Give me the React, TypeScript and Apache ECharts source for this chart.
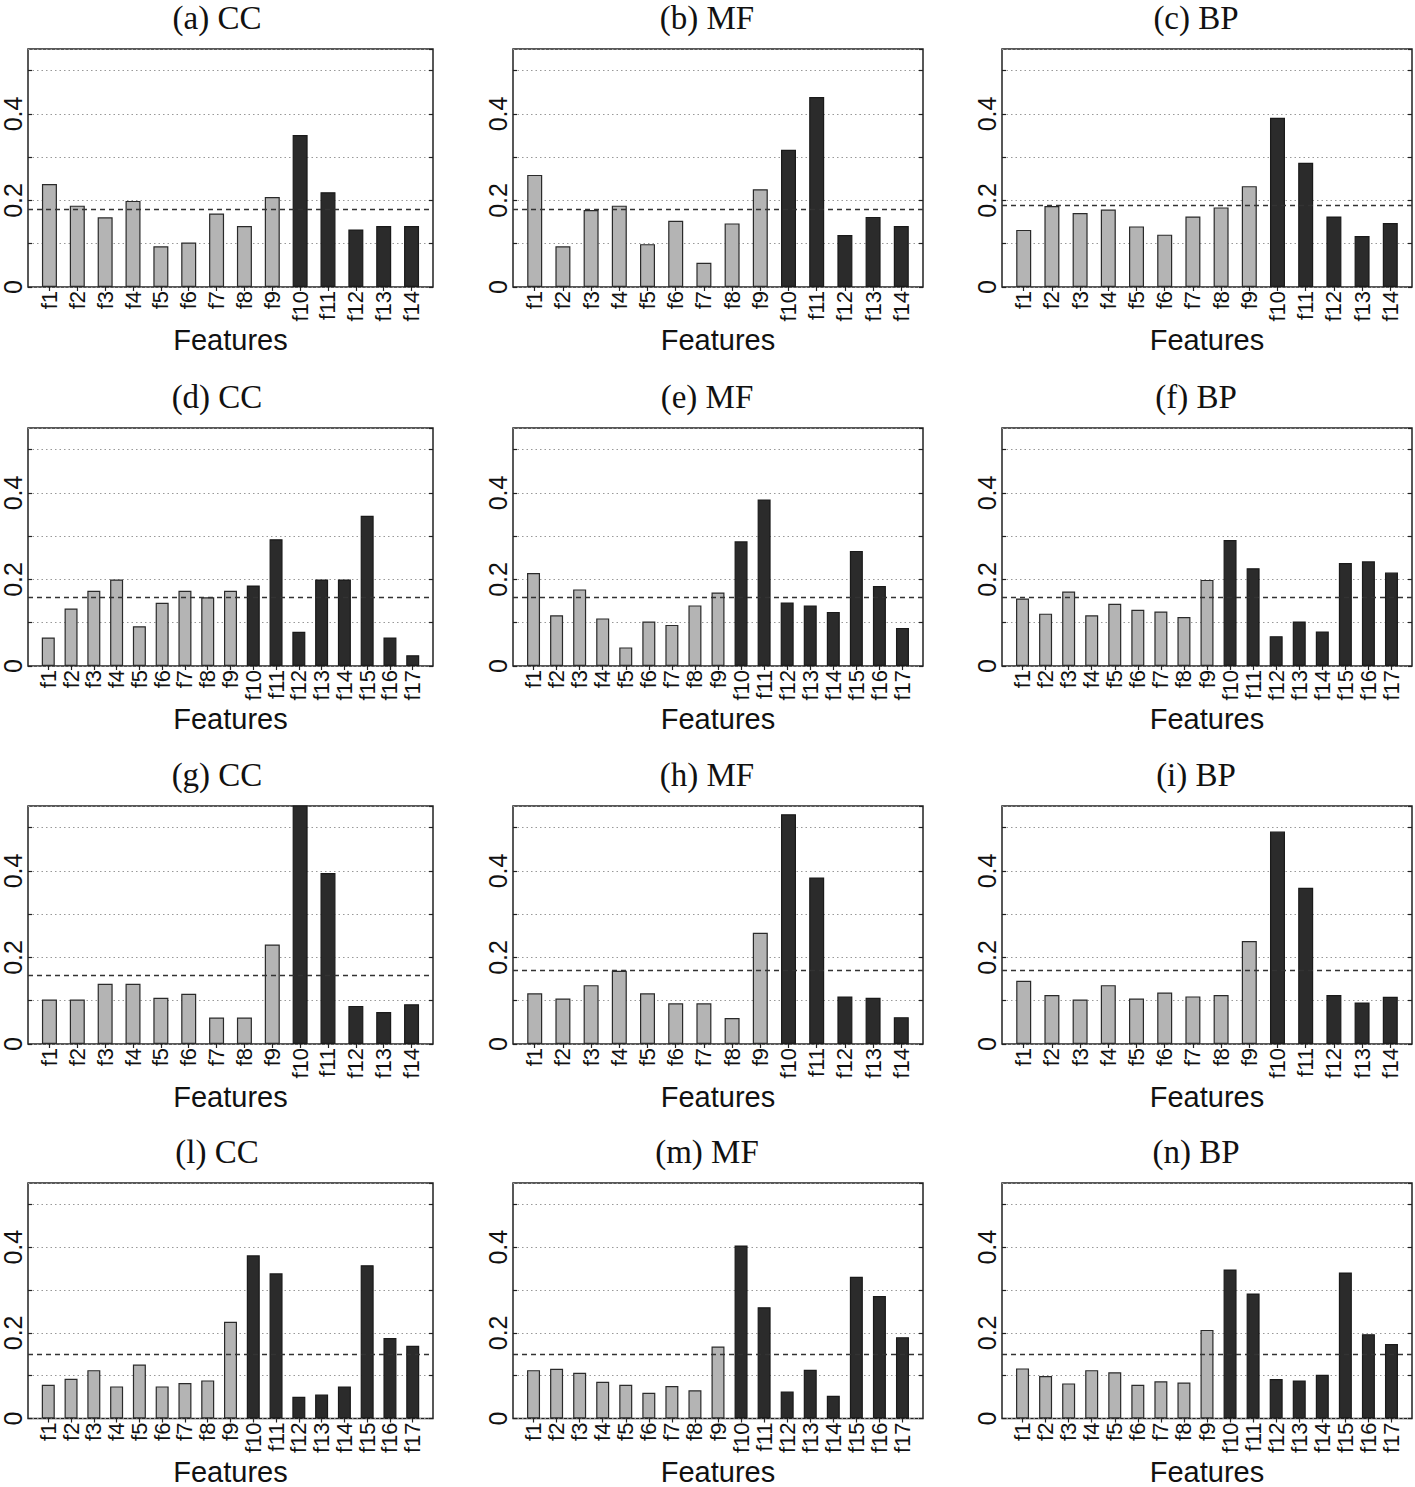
import React, { useEffect, useRef } from "react";
import * as echarts from "echarts";

// ---- Data ----
const features14 = ["f1","f2","f3","f4","f5","f6","f7","f8","f9","f10","f11","f12","f13","f14"];
const features17 = ["f1","f2","f3","f4","f5","f6","f7","f8","f9","f10","f11","f12","f13","f14","f15","f16","f17"];
const firstDarkFeature = 10; // f10 onward drawn dark

const valuesA = [0.238,0.188,0.161,0.199,0.094,0.103,0.170,0.141,0.208,0.351,0.219,0.133,0.141,0.141];
const valuesB = [0.259,0.094,0.178,0.188,0.099,0.153,0.056,0.147,0.226,0.317,0.439,0.120,0.162,0.141];
const valuesC = [0.132,0.187,0.171,0.179,0.140,0.121,0.163,0.184,0.233,0.391,0.287,0.163,0.118,0.148];
const valuesD = [0.066,0.133,0.174,0.200,0.092,0.146,0.174,0.159,0.174,0.186,0.293,0.079,0.200,0.200,0.347,0.066,0.025];
const valuesE = [0.215,0.117,0.177,0.110,0.043,0.103,0.095,0.140,0.170,0.288,0.385,0.147,0.140,0.125,0.266,0.185,0.088];
const valuesF = [0.156,0.121,0.172,0.117,0.144,0.130,0.126,0.113,0.199,0.291,0.226,0.069,0.103,0.080,0.238,0.242,0.216];
const valuesG = [0.103,0.103,0.139,0.139,0.107,0.116,0.061,0.061,0.230,0.560,0.395,0.088,0.074,0.092];
const valuesH = [0.117,0.105,0.136,0.169,0.117,0.094,0.094,0.060,0.257,0.531,0.385,0.110,0.107,0.062];
const valuesI = [0.146,0.113,0.103,0.136,0.105,0.119,0.110,0.113,0.238,0.491,0.361,0.113,0.096,0.109];
const valuesL = [0.079,0.093,0.113,0.075,0.126,0.075,0.083,0.089,0.226,0.381,0.339,0.051,0.056,0.075,0.358,0.188,0.170];
const valuesM = [0.113,0.116,0.107,0.086,0.079,0.060,0.076,0.066,0.168,0.404,0.260,0.063,0.114,0.053,0.331,0.286,0.190];
const valuesN = [0.117,0.099,0.082,0.113,0.108,0.079,0.087,0.084,0.207,0.348,0.292,0.092,0.089,0.102,0.341,0.197,0.174];

const thresholds = [0.177, 0.185, 0.186, 0.159, 0.164, 0.161, 0.161, 0.167, 0.168, 0.150, 0.150, 0.154];
const panelTitles = ["(a) CC","(b) MF","(c) BP","(d) CC","(e) MF","(f) BP","(g) CC","(h) MF","(i) BP","(l) CC","(m) MF","(n) BP"];
const panelValues = [valuesA, valuesB, valuesC, valuesD, valuesE, valuesF, valuesG, valuesH, valuesI, valuesL, valuesM, valuesN];
const panelFeatures = [features14, features14, features14, features17, features17, features17, features14, features14, features14, features17, features17, features17];

const yMax = 0.55;
const yStep = 0.1;
const xAxisName = "Features";

// ---- Layout / style ----
const colLeft = [23, 513, 1002];
const rowTop = [49, 428, 806, 1183];
const plotW = 410;
const plotH = 238;
const lightColor = "#b4b4b4";
const darkColor = "#2b2b2b";
const sans = "Liberation Sans, Arial, Helvetica, sans-serif";
const serif = "Liberation Serif, Times New Roman, serif";

function yLabel(v: number) {
  const k = Math.round(v * 10);
  if (Math.abs(v * 10 - k) > 1e-6 || k % 2 !== 0) return "";
  return k === 0 ? "0" : (k / 10).toFixed(1);
}

function buildOption() {
  const grid: any[] = [];
  const xAxis: any[] = [];
  const yAxis: any[] = [];
  const series: any[] = [];
  const graphic: any[] = [];

  panelValues.forEach((vals, p) => {
    const feats = panelFeatures[p];
    const n = feats.length;
    const pad = n === 14 ? 0.77 : 0.89;
    const col = p % 3;
    const row = Math.floor(p / 3);
    const left = colLeft[col];
    const top = rowTop[row];
    grid.push({
      left, top, width: plotW, height: plotH,
      show: true, borderColor: "#222", borderWidth: 1.5, backgroundColor: "transparent",
      containLabel: false,
    });
    const positions = feats.map((_, i) => i + 1);
    const common = { type: "value", min: 1 - pad, max: n + pad, gridIndex: p };
    xAxis.push({
      ...common,
      position: "bottom",
      name: xAxisName,
      nameLocation: "middle",
      nameGap: 35,
      nameTextStyle: { fontFamily: sans, fontSize: 29, color: "#111" },
      axisLine: { show: false },
      splitLine: { show: false },
      axisTick: { show: true, inside: true, length: 4, customValues: positions, lineStyle: { color: "#222", width: 1.2 } },
      axisLabel: {
        show: true, customValues: positions, rotate: 90, margin: 4,
        fontFamily: sans, fontSize: 22, color: "#111",
        formatter: (v: number) => feats[Math.round(v) - 1] || "",
      },
    });
    xAxis.push({
      ...common,
      position: "top",
      axisLine: { show: false },
      splitLine: { show: false },
      axisTick: { show: true, inside: true, length: 4, customValues: positions, lineStyle: { color: "#222", width: 1.2 } },
      axisLabel: { show: false },
    });
    const yCommon = { type: "value", min: 0, max: yMax, interval: yStep, gridIndex: p };
    yAxis.push({
      ...yCommon,
      position: "left",
      axisLine: { show: false },
      axisTick: { show: true, inside: true, length: 4, lineStyle: { color: "#222", width: 1.2 } },
      splitLine: { show: true, lineStyle: { type: [1.5, 3], color: "#999", width: 1 } },
      axisLabel: {
        show: true, rotate: 90, align: "center", verticalAlign: "bottom", margin: 3,
        fontFamily: sans, fontSize: 25, color: "#111", formatter: yLabel,
        showMaxLabel: false,
      },
    });
    yAxis.push({
      ...yCommon,
      position: "right",
      axisLine: { show: false },
      axisTick: { show: true, inside: true, length: 4, lineStyle: { color: "#222", width: 1.2 } },
      splitLine: { show: false },
      axisLabel: { show: false },
    });
    series.push({
      type: "bar",
      name: panelTitles[p],
      xAxisIndex: 2 * p,
      yAxisIndex: 2 * p,
      barWidth: n === 14 ? 15 : 13,
      clip: true,
      data: vals.map((v, i) => {
        const dark = i + 1 >= firstDarkFeature;
        return {
          value: [i + 1, v],
          itemStyle: {
            color: dark ? darkColor : lightColor,
            borderColor: dark ? "#1a1a1a" : "#2a2a2a",
            borderWidth: 1.2,
          },
        };
      }),
      markLine: {
        silent: true,
        symbol: "none",
        label: { show: false },
        lineStyle: { type: [5, 4], color: "#333", width: 1.4 },
        data: [{ yAxis: thresholds[p] }],
      },
    });
    graphic.push({
      type: "text",
      x: left + plotW / 2 - 11,
      y: top - 31,
      style: {
        text: panelTitles[p],
        font: `33px ${serif}`,
        fill: "#111",
        textAlign: "center",
        textVerticalAlign: "middle",
      },
    });
  });

  return {
    animation: false,
    backgroundColor: "#fff",
    grid, xAxis, yAxis, series, graphic,
  };
}

export default function App() {
  const ref = useRef<HTMLDivElement>(null);
  useEffect(() => {
    if (!ref.current) return;
    const chart = echarts.init(ref.current, undefined, { renderer: "svg" });
    chart.setOption(buildOption() as any);
    return () => chart.dispose();
  }, []);
  return (
    <div
      ref={ref}
      style={{ position: "absolute", left: 0, top: 0, width: 1415, height: 1487, background: "#fff" }}
    />
  );
}
